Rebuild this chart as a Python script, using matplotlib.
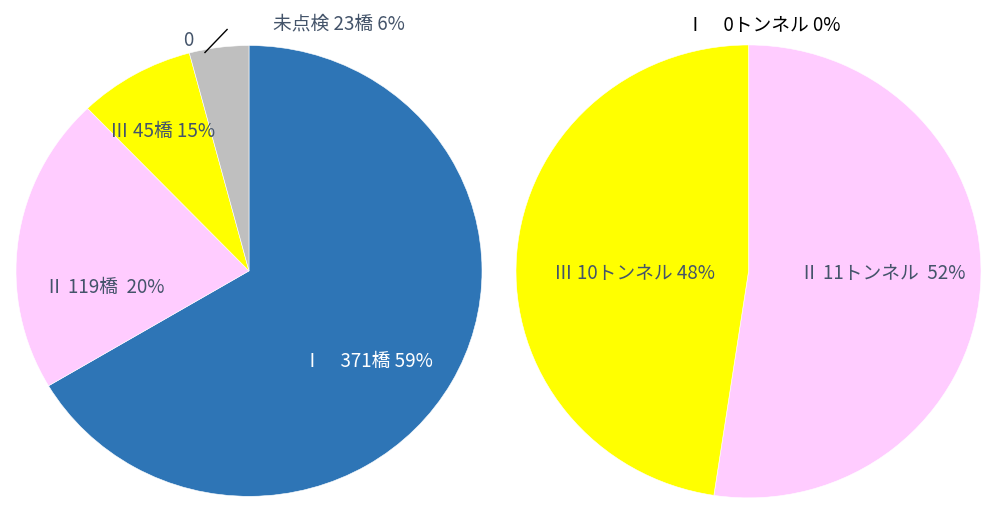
import matplotlib
matplotlib.use('Agg')
import matplotlib.pyplot as plt

plt.rcParams['font.family'] = ['Noto Sans CJK JP', 'DejaVu Sans']

# left pie: bridges by rank
bridge_names = ['Ⅰ', 'Ⅱ', 'Ⅲ', '未点検']
bridge_counts = [371, 119, 45, 23]
bridge_labels = ['Ⅰ\u3000371橋 59%', 'Ⅱ 119橋  20%', 'Ⅲ 45橋 15%', '未点検 23橋 6%']

# right pie: tunnels by rank
tunnel_names = ['Ⅰ', 'Ⅱ', 'Ⅲ']
tunnel_counts = [0, 11, 10]
tunnel_labels = ['Ⅰ\u30000トンネル 0%', 'Ⅱ 11トンネル  52%', 'Ⅲ 10トンネル 48%']

rank_colors = {'Ⅰ': '#2E75B6', 'Ⅱ': '#FFCCFF', 'Ⅲ': '#FFFF00', '未点検': '#BFBFBF'}
txt = '#44546A'
fs = 13.5

fig = plt.figure(figsize=(10, 5.17), dpi=100)

def draw_pie(ax, counts, names):
    ax.pie(counts, colors=[rank_colors[n] for n in names], startangle=90,
           counterclock=False, wedgeprops=dict(edgecolor='white', linewidth=0.4))
    ax.set_aspect('auto')
    ax.set_xlim(-1, 1)
    ax.set_ylim(-1, 1)
    ax.axis('off')

ax1 = fig.add_axes([0.016, 0.040, 0.466, 0.872])
draw_pie(ax1, bridge_counts, bridge_names)
left_pos = [(0.51, -0.40), (-0.62, -0.075), (-0.37, 0.62), (0.385, 1.095)]
for lab, (x, y), n in zip(bridge_labels, left_pos, bridge_names):
    ax1.text(x, y, lab, ha='center', va='center', fontsize=fs,
             color='white' if n == 'Ⅰ' else txt, clip_on=False)
# zero-label with leader line near the gray slice
ax1.text(-0.262, 1.02, '0', ha='center', va='center', fontsize=fs, color=txt, clip_on=False)
ax1.plot([-0.189, -0.094], [0.969, 1.071], color='black', lw=1, clip_on=False)

ax2 = fig.add_axes([0.516, 0.037, 0.465, 0.876])
draw_pie(ax2, tunnel_counts, tunnel_names)
right_pos = [(0.065, 1.085), (0.578, -0.01), (-0.49, -0.01)]
for lab, (x, y), n in zip(tunnel_labels, right_pos, tunnel_names):
    ax2.text(x, y, lab, ha='center', va='center', fontsize=fs,
             color='black' if n == 'Ⅰ' else txt, clip_on=False)

fig.savefig('out.png', dpi=100)
